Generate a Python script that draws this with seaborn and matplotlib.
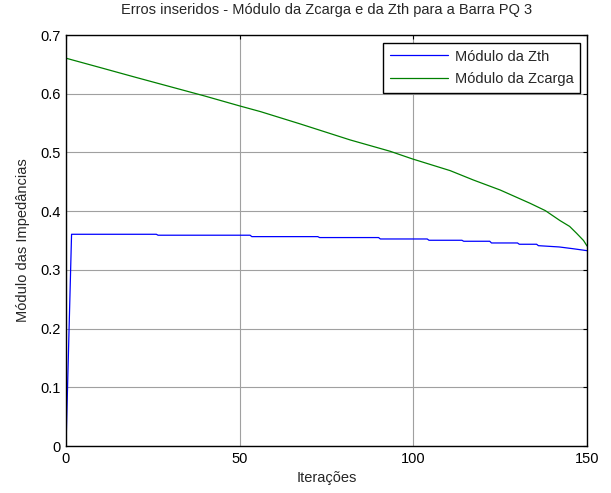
import matplotlib
matplotlib.use("Agg")
import matplotlib.pyplot as plt
import seaborn as sns
import pandas as pd

# Data
iter_zth = [0, 1.6, 26, 26.5, 53, 53.5, 72.5, 73, 90, 90.5, 104, 104.5, 114, 114.5,
            122, 122.5, 130, 130.5, 135.5, 136, 142, 146, 150]
zth = [0.0, 0.3606, 0.3606, 0.359, 0.359, 0.3566, 0.3566, 0.355, 0.355, 0.3526,
       0.3526, 0.3504, 0.3504, 0.3487, 0.3487, 0.3458, 0.3458, 0.3436, 0.3436,
       0.3412, 0.3390, 0.3360, 0.3327]

iter_zc = [0, 10, 20, 30, 40, 50, 56, 67.4, 81.8, 93.3, 99.7, 110.6, 117.3, 125,
           133.6, 138, 142.2, 145, 147, 149, 150]
zcarga = [0.6605, 0.6443, 0.628, 0.612, 0.596, 0.5792, 0.5695, 0.5486, 0.5213,
          0.502, 0.489, 0.469, 0.453, 0.436, 0.4134, 0.4009, 0.384, 0.374, 0.3623,
          0.350, 0.3407]

series_names = ["Módulo da Zth", "Módulo da Zcarga"]
x_ticks = [0, 50, 100, 150]
y_ticks = [0, 0.1, 0.2, 0.3, 0.4, 0.5, 0.6, 0.7]
y_ticklabels = ["0", "0.1", "0.2", "0.3", "0.4", "0.5", "0.6", "0.7"]

df = pd.concat([
    pd.DataFrame({"x": iter_zth, "y": zth, "s": series_names[0]}),
    pd.DataFrame({"x": iter_zc, "y": zcarga, "s": series_names[1]}),
])

sns.set_style("white")
plt.rcParams["font.family"] = ["Liberation Sans", "DejaVu Sans"]
FS = 10.5

fig = plt.figure(figsize=(6.11, 4.93), dpi=100)
ax = fig.add_axes([66/611, 1-446/493, (587-66)/611, (446-35)/493])

sns.lineplot(data=df, x="x", y="y", hue="s", sort=False, estimator=None,
             palette={series_names[0]: "#0000ff", series_names[1]: "#008000"},
             linewidth=0.9, ax=ax, legend=True)

ax.set_xlim(0, 150)
ax.set_ylim(0, 0.7)
ax.set_xticks(x_ticks)
ax.set_xticklabels([str(t) for t in x_ticks])
ax.set_yticks(y_ticks)
ax.set_yticklabels(y_ticklabels)
ax.grid(True, color="#a0a0a0", linewidth=0.8)
ax.set_axisbelow(True)
for sp in ax.spines.values():
    sp.set_visible(True)
    sp.set_color("black")
    sp.set_linewidth(1.0)
ax.tick_params(direction="in", length=3, width=0.8, top=True, right=True,
               labelsize=FS, colors="black", pad=4)

ax.set_title("Erros inseridos - Módulo da Zcarga e da Zth para a Barra PQ 3",
             fontsize=FS, pad=15)
ax.set_xlabel("Iterações", fontsize=FS, labelpad=4)
ax.set_ylabel("Módulo das Impedâncias", fontsize=FS, labelpad=7)

handles, labels = ax.get_legend_handles_labels()
leg = ax.legend(handles, labels, loc="upper right",
                bbox_to_anchor=((580-66)/521, (446-43)/411),
                fontsize=FS, frameon=True, fancybox=False, framealpha=1,
                edgecolor="black", borderpad=0.45, handlelength=4.0,
                handletextpad=0.45, labelspacing=0.6, borderaxespad=0)
leg.get_frame().set_linewidth(1.0)

fig.savefig("out.png", dpi=100)
